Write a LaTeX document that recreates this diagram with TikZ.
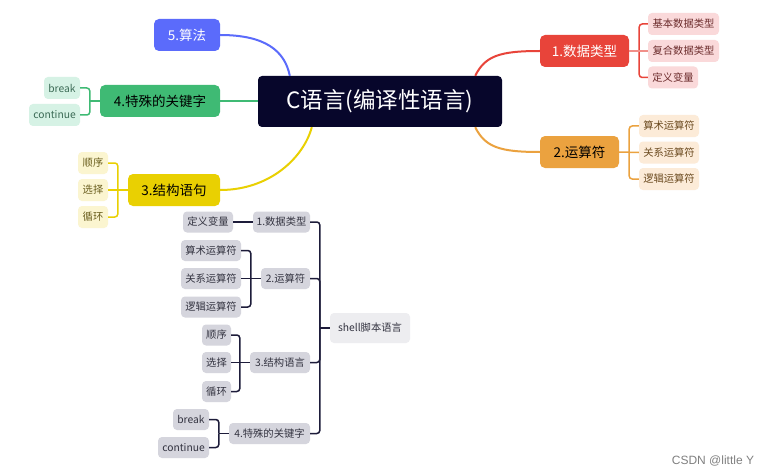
\documentclass[tikz,border=0pt]{standalone}
\usepackage{fontspec}
\setmainfont{Noto Sans CJK SC}
\newfontfamily\wmfont{Liberation Sans}
\usetikzlibrary{calc}
\definecolor{cdark}{HTML}{07062B}
\definecolor{cblue}{HTML}{5B6BFB}
\definecolor{cgreen}{HTML}{3FBA74}
\definecolor{lgreen}{HTML}{D6F2E5}
\definecolor{tgreen}{HTML}{3C6B56}
\definecolor{cyellow}{HTML}{E9D002}
\definecolor{lyellow}{HTML}{FBF5D0}
\definecolor{tyellow}{HTML}{6B5F1F}
\definecolor{cred}{HTML}{E8443A}
\definecolor{lpink}{HTML}{FAD9DA}
\definecolor{tred}{HTML}{6B2B2B}
\definecolor{corange}{HTML}{EBA23F}
\definecolor{lorange}{HTML}{FCEBD8}
\definecolor{torange}{HTML}{6B4A1F}
\definecolor{cgrey}{HTML}{D5D5DD}
\definecolor{tgrey}{HTML}{333340}
\definecolor{cshell}{HTML}{EDEDF0}
\definecolor{cline}{HTML}{1D1C3A}
\begin{document}
\begin{tikzpicture}[x=1pt,y=-1pt,
  central/.style={fill=cdark,text=white,rounded corners=4pt,inner sep=0pt,
    minimum width=244pt,minimum height=51pt,font=\fontsize{22.5}{26}\selectfont},
  mainbox/.style={rounded corners=5pt,inner sep=0pt,minimum height=32pt,
    font=\fontsize{13.5}{16}\selectfont},
  leaf/.style={rounded corners=4pt,inner sep=0pt,minimum height=22pt,
    font=\fontsize{10.3}{12}\selectfont},
  gleaf/.style={leaf,fill=cgrey,text=tgrey,minimum height=21pt},
  curve/.style={line width=2pt},
  brk/.style={line width=1.5pt,rounded corners=3pt},
  dbrk/.style={brk,draw=cline}]
\useasboundingbox (0,0) rectangle (773,476);
\fill[white] (0,0) rectangle (773,476);

% central and main branches
\node[central] (c) at (380,101.5) {C语言(编译性语言)};
\node[mainbox,fill=cblue,text=white,minimum width=66pt] (k5) at (187,35) {5.算法};
\node[mainbox,fill=cgreen,text=black,minimum width=120pt] (k4) at (160,101) {4.特殊的关键字};
\node[mainbox,fill=cyellow,text=black,minimum width=92pt] (k3) at (174,190) {3.结构语句};
\node[mainbox,fill=cred,text=white,minimum width=89pt] (k1) at (584.5,51) {1.数据类型};
\node[mainbox,fill=corange,text=black,minimum width=79pt] (k2) at (579.5,152) {2.运算符};

% leaves
\node[leaf,fill=lgreen,text=tgreen,minimum width=36pt] (b) at (62,88) {break};
\node[leaf,fill=lgreen,text=tgreen,minimum width=51pt] (ct) at (54.5,115) {continue};
\node[leaf,fill=lyellow,text=tyellow,minimum width=30pt] (s1) at (93,163) {顺序};
\node[leaf,fill=lyellow,text=tyellow,minimum width=30pt] (s2) at (93,190) {选择};
\node[leaf,fill=lyellow,text=tyellow,minimum width=30pt] (s3) at (93,217) {循环};
\node[leaf,fill=lpink,text=tred,minimum width=71pt] (d1) at (683.5,24) {基本数据类型};
\node[leaf,fill=lpink,text=tred,minimum width=71pt] (d2) at (683.5,51) {复合数据类型};
\node[leaf,fill=lpink,text=tred,minimum width=50pt] (d3) at (673,77.5) {定义变量};
\node[leaf,fill=lorange,text=torange,minimum width=60pt] (o1) at (669,126) {算术运算符};
\node[leaf,fill=lorange,text=torange,minimum width=60pt] (o2) at (669,152.5) {关系运算符};
\node[leaf,fill=lorange,text=torange,minimum width=60pt] (o3) at (669,179) {逻辑运算符};

% main curves
\draw[curve,draw=cblue] (k5.east) .. controls +(45,0) and +(-5,-25) .. ($(c.north west)+(32,0)$);
\draw[curve,draw=cgreen] (k4.east) -- (k4.east -| c.west);
\draw[curve,draw=cyellow] (k3.east) .. controls +(50,0) and +(-8,30) .. ($(c.south west)+(54,0)$);
\draw[curve,draw=cred] ($(c.north east)+(-27,0)$) .. controls +(10,-20) and +(-40,0) .. (k1.west);
\draw[curve,draw=corange] ($(c.south east)+(-27,0)$) .. controls +(10,20) and +(-40,0) .. (k2.west);

% brackets top
\draw[brk,draw=cgreen] (b.east) -| ($(k4.west)+(-10,0)$);
\draw[brk,draw=cgreen] (ct.east) -| ($(k4.west)+(-10,0)$);
\draw[brk,draw=cgreen] (k4.west) -- ++(-10,0);
\draw[brk,draw=cyellow] (s1.east) -| ($(k3.west)+(-10,0)$);
\draw[brk,draw=cyellow] (s3.east) -| ($(k3.west)+(-10,0)$);
\draw[brk,draw=cyellow] (s2.east) -- (k3.west);
\draw[brk,draw=cred] (d1.west) -| ($(k1.east)+(10,0)$);
\draw[brk,draw=cred] (d3.west) -| ($(k1.east)+(10,0)$);
\draw[brk,draw=cred!60] (d2.west) -- (k1.east);
\draw[brk,draw=corange] (o1.west) -| ($(k2.east)+(10,0)$);
\draw[brk,draw=corange] (o3.west) -| ($(k2.east)+(10,0)$);
\draw[brk,draw=corange] (o2.west) -- (k2.east);

% bottom tree
\node[leaf,fill=cshell,text=tgrey,minimum width=80pt,minimum height=30pt] (sh) at (370,328) {shell脚本语言};
\node[gleaf,minimum width=57pt] (p1) at (281.5,222) {1.数据类型};
\node[gleaf,minimum width=50pt] (p1a) at (208,222) {定义变量};
\node[gleaf,minimum width=49pt] (p2) at (285.5,278.5) {2.运算符};
\node[gleaf,minimum width=60pt] (p2a) at (211,250.5) {算术运算符};
\node[gleaf,minimum width=60pt] (p2b) at (211,278.5) {关系运算符};
\node[gleaf,minimum width=60pt] (p2c) at (211,307) {逻辑运算符};
\node[gleaf,minimum width=60pt] (p3) at (280,362.5) {3.结构语言};
\node[gleaf,minimum width=29pt] (p3a) at (216.5,335) {顺序};
\node[gleaf,minimum width=29pt] (p3b) at (216.5,362.5) {选择};
\node[gleaf,minimum width=29pt] (p3c) at (216.5,391.5) {循环};
\node[gleaf,minimum width=81pt] (p4) at (269.5,433.5) {4.特殊的关键字};
\node[gleaf,minimum width=36pt] (p4a) at (191,419.5) {break};
\node[gleaf,minimum width=51pt] (p4b) at (183.5,447.5) {continue};

\draw[dbrk] (p1a.east) -- (p1.west);
\draw[dbrk] (p2a.east) -| ($(p2.west)+(-10,0)$);
\draw[dbrk] (p2c.east) -| ($(p2.west)+(-10,0)$);
\draw[dbrk] (p2b.east) -- (p2.west);
\draw[dbrk] (p3a.east) -| ($(p3.west)+(-10,0)$);
\draw[dbrk] (p3c.east) -| ($(p3.west)+(-10,0)$);
\draw[dbrk] (p3b.east) -- (p3.west);
\draw[dbrk] (p4a.east) -| ($(p4.west)+(-10,0)$);
\draw[dbrk] (p4b.east) -| ($(p4.west)+(-10,0)$);
\draw[dbrk] (p4.west) -- ++(-10,0);
\draw[dbrk] (p1.east) -| ($(sh.west)+(-10,0)$);
\draw[dbrk] (p2.east) -| ($(sh.west)+(-10,0)$);
\draw[dbrk] (p3.east) -| ($(sh.west)+(-10,0)$);
\draw[dbrk] (p4.east) -| ($(sh.west)+(-10,0)$);
\draw[dbrk] (sh.west) -- ++(-10,0);

% watermark
\node[font=\wmfont\fontsize{12}{14}\selectfont,text=black!50] (wm) at (713,461) {CSDN @little Y};
\end{tikzpicture}
\end{document}
